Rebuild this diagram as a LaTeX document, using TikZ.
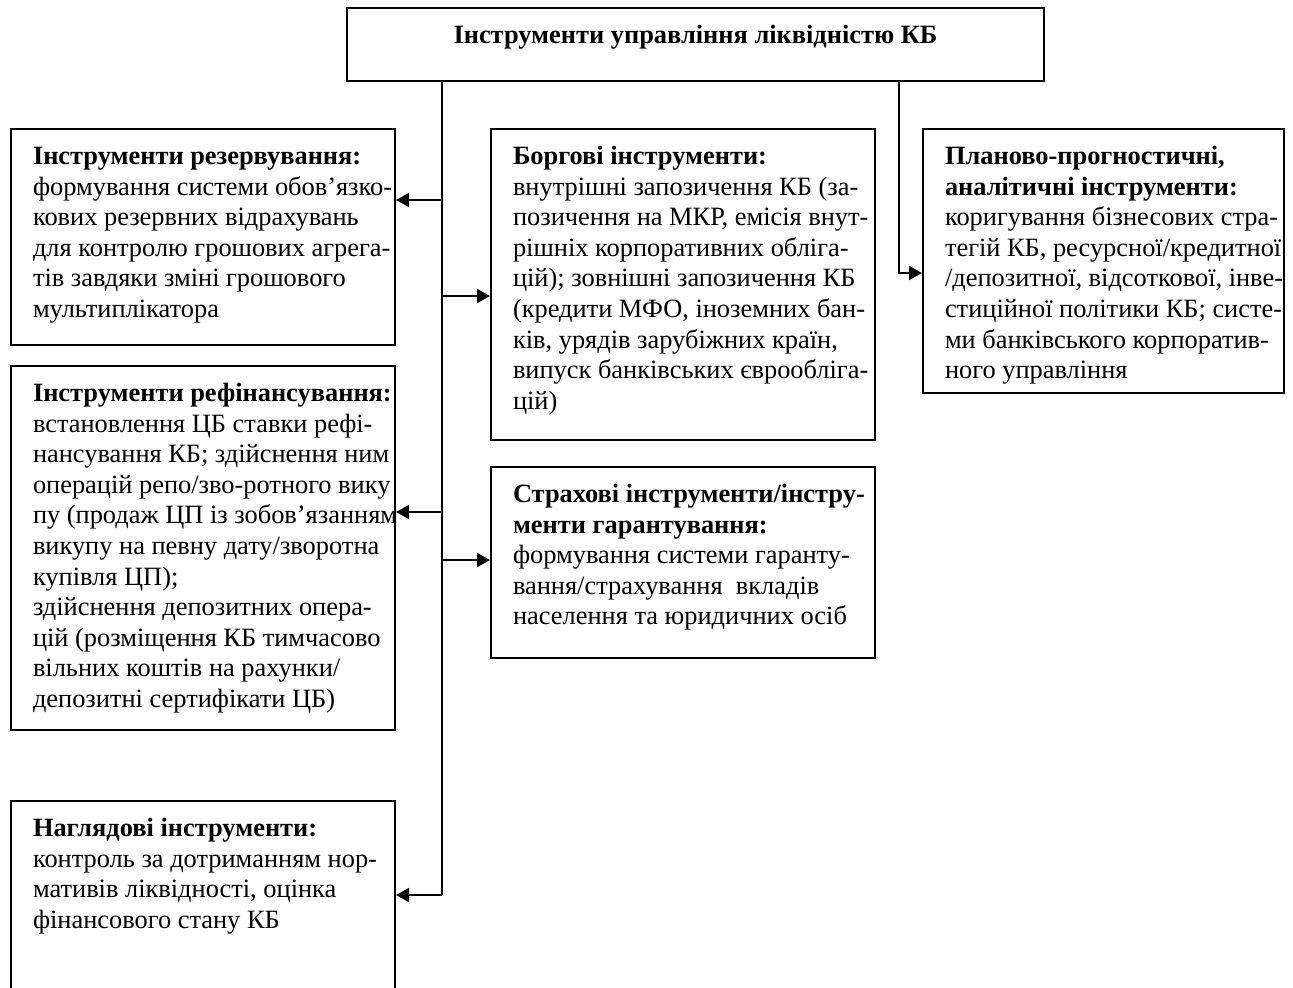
\documentclass[tikz,border=0pt]{standalone}
\usepackage{fontspec}
\setmainfont{Liberation Serif}
\usetikzlibrary{arrows.meta,positioning}

\begin{document}
\begin{tikzpicture}[
    x=0.5pt, y=-0.5pt,
    font=\fontsize{13.2pt}{15.3pt}\selectfont,
    blk/.style 2 args={draw, line width=1pt, anchor=north west, inner xsep=11pt, inner ysep=7pt,
        execute at begin node={\begin{minipage}[t][#2][t]{#1}\raggedright
            \rightskip=0pt plus 1fil minus 500pt\relax\strut},
        execute at end node={\end{minipage}}},
    titlebox/.style={draw, line width=1pt, anchor=north west, minimum width=348.5pt,
        minimum height=36.5pt, text depth=10.5pt, font=\fontsize{13.2pt}{15.3pt}\selectfont\bfseries},
    line/.style={line width=0.9pt},
    arr/.style={-{Triangle[length=6.5pt,width=7pt]}, line width=0.9pt}
]
    \useasboundingbox (0,0) rectangle (1293,987);

    \node[titlebox] (title) at (346,7) {Інструменти управління ліквідністю КБ};

    \node[blk={170pt}{94pt}] (resv) at (10,128) {\textbf{Інструменти резервування:}\\
        формування системи обов’язко-\\
        кових резервних відрахувань\\
        для контролю грошових агрега-\\
        тів завдяки зміні грошового\\
        мультиплікатора};
    \node[blk={170pt}{168pt}, below=9.5pt of resv.south west, anchor=north west] (refin) {\textbf{Інструменти рефінансування:}\\
        встановлення ЦБ ставки рефі-\\
        нансування КБ; здійснення ним\\
        операцій репо/зво-ротного вику\\
        пу (продаж ЦП із зобов’язанням\\
        викупу на певну дату/зворотна\\
        купівля ЦП);\\
        здійснення депозитних опера-\\
        цій (розміщення КБ тимчасово\\
        вільних коштів на рахунки/\\
        депозитні сертифікати ЦБ)};
    \node[blk={170pt}{96pt}] (nag) at (10,800) {\textbf{Наглядові інструменти:}\\
        контроль за дотриманням нор-\\
        мативів ліквідності, оцінка\\
        фінансового стану КБ};

    \node[blk={170pt}{141.5pt}] (borg) at (490,128) {\textbf{Боргові інструменти:}\\
        внутрішні запозичення КБ (за-\\
        позичення на МКР, емісія внут-\\
        рішніх корпоративних обліга-\\
        цій); зовнішні запозичення КБ\\
        (кредити МФО, іноземних бан-\\
        ків, урядів зарубіжних країн,\\
        випуск банківських єврообліга-\\
        цій)};
    \node[blk={170pt}{81.5pt}, below=12.5pt of borg.south west, anchor=north west] (strah) {\textbf{Страхові інструменти/інстру-}\\
        \textbf{менти гарантування:}\\
        формування системи гаранту-\\
        вання/страхування~ вкладів\\
        населення та юридичних осіб};

    \node[blk={158.5pt}{118pt}] (plan) at (922,128) {\textbf{Планово-прогностичні,}\\
        \textbf{аналітичні інструменти:}\\
        коригування бізнесових стра-\\
        тегій КБ, ресурсної/кредитної\\
        /депозитної, відсоткової, інве-\\
        стиційної політики КБ; систе-\\
        ми банківського корпоратив-\\
        ного управління};

    \coordinate (t2) at (442,895);
    \coordinate (p2) at (899,273);
    \coordinate (b1) at (442,200);
    \coordinate (b2) at (442,296);
    \coordinate (b3) at (442,512);
    \coordinate (b4) at (442,560);

    \draw[line] (title.south -| t2) -- (t2);
    \draw[arr] (b1) -- (b1 -| resv.east);
    \draw[arr] (b2) -- (b2 -| borg.west);
    \draw[arr] (b3) -- (b3 -| refin.east);
    \draw[arr] (b4) -- (b4 -| strah.west);
    \draw[arr] (t2) -- (t2 -| nag.east);
    \draw[arr] (title.south -| p2) -- (p2) -- (p2 -| plan.west);
\end{tikzpicture}
\end{document}
